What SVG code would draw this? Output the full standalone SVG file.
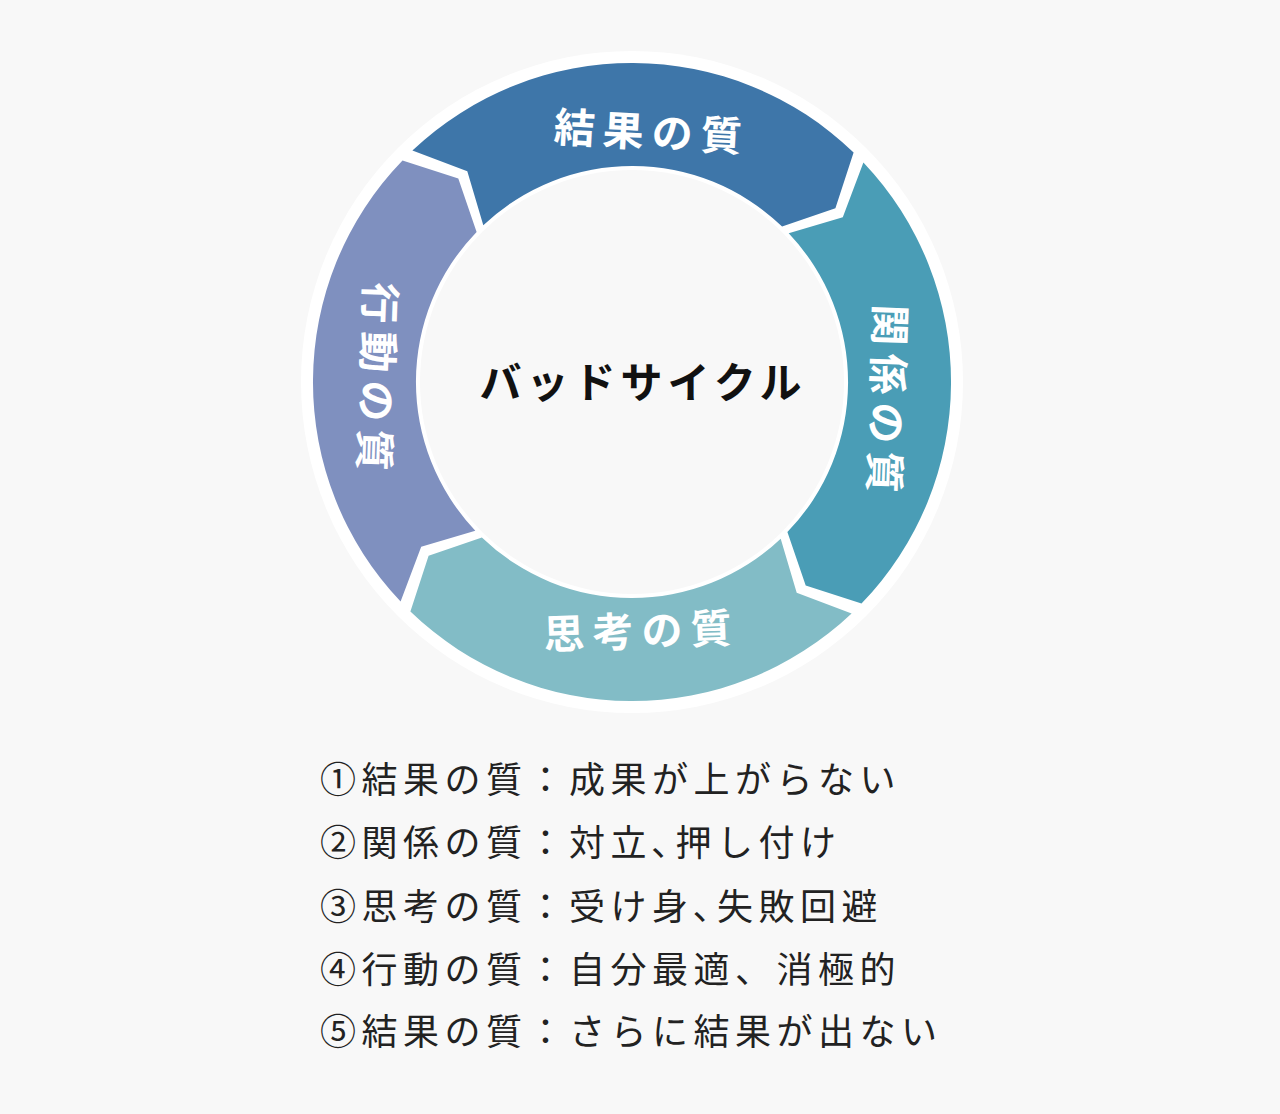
<svg xmlns="http://www.w3.org/2000/svg" width="1280" height="1114" viewBox="0 0 1280 1114">
<style>
.lbl{font-family:"Noto Sans CJK JP",sans-serif;font-weight:700;font-size:41px;fill:#fff;text-anchor:middle;letter-spacing:8px}
.lst{font-family:"Noto Sans CJK JP",sans-serif;font-size:36px;fill:#222;letter-spacing:5.5px}
</style>
<defs><path id="seg" d="M412.4,150.6 A319,319 0 0 1 853.6,152.5 L835.4,208.3 L782.1,226.6 A216,216 0 0 0 483.3,225.3 L467.3,171.2 Z"/></defs>
<rect width="1280" height="1114" fill="#f8f8f8"/>
<circle cx="632" cy="382" r="331" fill="#fff"/>
<g id="n1"><use href="#seg" fill="#3e76a9"/><text class="lbl" transform="translate(651,147) rotate(3)">結果の質</text></g>
<g id="n2"><use href="#seg" fill="#4a9db6" transform="rotate(90 632 382)"/><text class="lbl" transform="translate(872,402) rotate(92)">関係の質</text></g>
<g id="n3"><use href="#seg" fill="#82bcc6" transform="rotate(180 632 382)"/><text class="lbl" transform="translate(642,646) rotate(-2)">思考の質</text></g>
<g id="n4"><use href="#seg" fill="#7f90bf" transform="rotate(270 632 382)"/><text class="lbl" transform="translate(362,380) rotate(92)">行動の質</text></g>
<g id="center"><circle cx="632" cy="382" r="212" fill="#f8f8f8"/><text x="643" y="398" style="font-family:'Noto Sans CJK JP',sans-serif;font-weight:700;font-size:42px;fill:#111;text-anchor:middle;letter-spacing:5px">バッドサイクル</text></g>
<g id="connectors"/>
<g id="list">
<text class="lst" x="320" y="793">①結果の質：成果が上がらない</text>
<text class="lst" x="320" y="856">②関係の質：対立､押し付け</text>
<text class="lst" x="320" y="920">③思考の質：受け身､失敗回避</text>
<text class="lst" x="320" y="983">④行動の質：自分最適、消極的</text>
<text class="lst" x="320" y="1045">⑤結果の質：さらに結果が出ない</text>
</g>
</svg>
